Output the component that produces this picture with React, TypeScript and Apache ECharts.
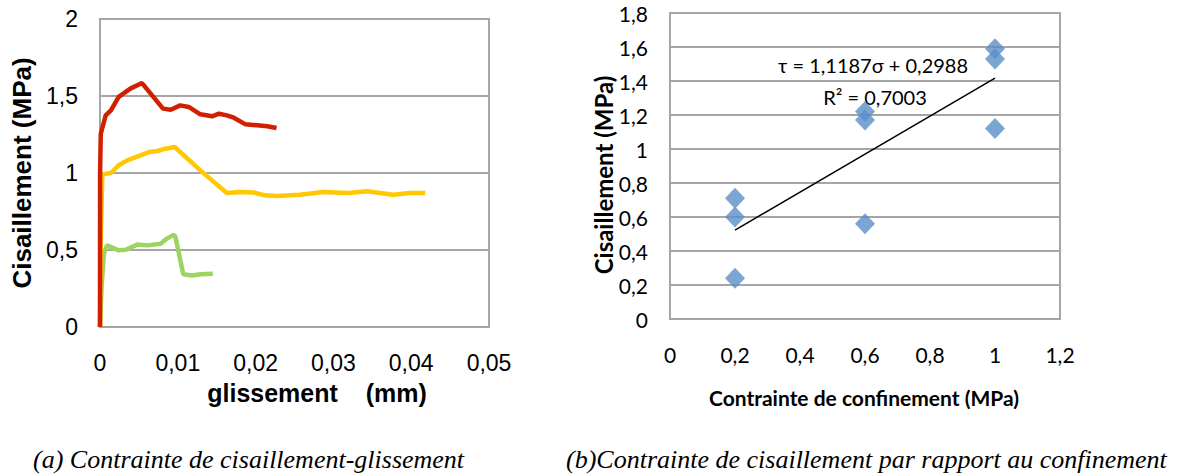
import React, { useEffect, useRef } from "react";
import * as echarts from "echarts";

// Left chart: shear stress vs slip (x in mm, y in MPa)
const redX = [0, 0.00001, 0.0001, 0.00073, 0.0014, 0.0024, 0.0039, 0.0054, 0.0081, 0.0091, 0.0103, 0.0114, 0.0129, 0.0144, 0.0153, 0.0163, 0.0172, 0.0187, 0.0202, 0.0215, 0.0227];
const redY = [0, 1.0, 1.255, 1.374, 1.407, 1.494, 1.548, 1.584, 1.418, 1.411, 1.439, 1.429, 1.381, 1.368, 1.385, 1.374, 1.359, 1.316, 1.31, 1.303, 1.292];

const yellowX = [0, 0.0001, 0.0003, 0.0014, 0.0024, 0.0035, 0.0052, 0.0063, 0.0074, 0.0084, 0.0096, 0.0129, 0.0163, 0.018, 0.0197, 0.0212, 0.0227, 0.0257, 0.0287, 0.0319, 0.0343, 0.0377, 0.0398, 0.0418];
const yellowY = [0, 0.6, 0.991, 1.0, 1.05, 1.082, 1.115, 1.136, 1.143, 1.158, 1.169, 1.017, 0.87, 0.877, 0.874, 0.855, 0.851, 0.859, 0.877, 0.87, 0.881, 0.859, 0.87, 0.87];

const greenX = [0, 0.0002, 0.0005, 0.0009, 0.0024, 0.0033, 0.0048, 0.0061, 0.0078, 0.0086, 0.0095, 0.0097, 0.0107, 0.0118, 0.0129, 0.0145];
const greenY = [0, 0.26, 0.476, 0.53, 0.498, 0.502, 0.535, 0.53, 0.541, 0.574, 0.6, 0.584, 0.342, 0.335, 0.342, 0.346];

// Right chart: shear vs confinement
const confX = [0.2, 0.2, 0.2, 0.6, 0.6, 0.6, 1.0, 1.0, 1.0];
const shearY = [0.71, 0.6, 0.24, 1.22, 1.17, 0.56, 1.59, 1.53, 1.12];
const trendSlope = 1.1187;
const trendIntercept = 0.2988;
const trendRange = [0.2, 1.0];

const leftYTicks = { min: 0, max: 2, interval: 0.5 };
const leftXTicks = { min: 0, max: 0.05, interval: 0.01 };
const rightYTicks = { min: 0, max: 1.8, interval: 0.2 };
const rightXTicks = { min: 0, max: 1.2, interval: 0.2 };

const zip = (xs: number[], ys: number[]) => xs.map((x, i) => [x, ys[i]]);
const comma = (v: number) => String(Math.round(v * 1000) / 1000).replace(".", ",");

export default function App() {
  const ref = useRef<HTMLDivElement>(null);
  useEffect(() => {
    if (!ref.current) return;
    const chart = echarts.init(ref.current, null, { renderer: "svg" });
    const gridLine = { show: true, lineStyle: { color: "#a6a6a6", width: 2 } };
    const armFont = "'Liberation Sans', Arial, sans-serif";
    const calFont = "Lato, 'Open Sans', sans-serif";
    const serif = "'Liberation Serif', 'Times New Roman', serif";
    chart.setOption({
      animation: false,
      backgroundColor: "#ffffff",
      grid: [
        { left: 100, right: 692, top: 19, bottom: 149, show: true, borderColor: "#a6a6a6", borderWidth: 2, backgroundColor: "transparent" },
        { left: 670, right: 121, top: 13, bottom: 157, show: true, borderColor: "#a6a6a6", borderWidth: 2, backgroundColor: "transparent" },
      ],
      xAxis: [
        {
          type: "value", gridIndex: 0, ...leftXTicks,
          axisLine: { show: false }, axisTick: { show: false }, splitLine: { show: false },
          axisLabel: { formatter: comma, fontFamily: armFont, fontSize: 23, color: "#000", margin: 24 },
        },
        {
          type: "value", gridIndex: 1, ...rightXTicks,
          axisLine: { show: false }, axisTick: { show: false }, splitLine: { show: false },
          axisLabel: { formatter: comma, fontFamily: calFont, fontSize: 21, color: "#000", margin: 25 },
        },
      ],
      yAxis: [
        {
          type: "value", gridIndex: 0, ...leftYTicks,
          axisLine: { show: false }, axisTick: { show: false }, splitLine: gridLine,
          axisLabel: { formatter: comma, fontFamily: armFont, fontSize: 23, color: "#000", margin: 22 },
        },
        {
          type: "value", gridIndex: 1, ...rightYTicks,
          axisLine: { show: false }, axisTick: { show: false }, splitLine: gridLine,
          axisLabel: { formatter: comma, fontFamily: calFont, fontSize: 21, color: "#000", margin: 22 },
        },
      ],
      series: [
        { type: "line", xAxisIndex: 0, yAxisIndex: 0, data: zip(greenX, greenY), showSymbol: false, lineStyle: { color: "#9dd35f", width: 4.5 } },
        { type: "line", xAxisIndex: 0, yAxisIndex: 0, data: zip(yellowX, yellowY), showSymbol: false, lineStyle: { color: "#ffc800", width: 4.5 } },
        { type: "line", xAxisIndex: 0, yAxisIndex: 0, data: zip(redX, redY), showSymbol: false, lineStyle: { color: "#d21f00", width: 4.5 } },
        {
          type: "line", xAxisIndex: 1, yAxisIndex: 1, showSymbol: false,
          data: trendRange.map((x) => [x, trendSlope * x + trendIntercept]),
          lineStyle: { color: "#000", width: 1.5 },
        },
        {
          type: "scatter", xAxisIndex: 1, yAxisIndex: 1, data: zip(confX, shearY),
          symbol: "diamond", symbolSize: [20, 21], itemStyle: { color: "#5b8ec9" },
        },
      ],
      graphic: [
        { type: "text", x: 22, y: 173, rotation: Math.PI / 2, style: { text: "Cisaillement (MPa)", fontFamily: armFont, fontWeight: "bold", fontSize: 26, fill: "#000", textAlign: "center", textVerticalAlign: "middle" } },
        { type: "text", x: 317, y: 393, style: { text: "glissement    (mm)", fontFamily: armFont, fontWeight: "bold", fontSize: 25, fill: "#000", textAlign: "center", textVerticalAlign: "middle" } },
        { type: "text", x: 603, y: 175, rotation: Math.PI / 2, style: { text: "Cisaillement (MPa)", fontFamily: calFont, fontWeight: "bold", fontSize: 24, fill: "#000", textAlign: "center", textVerticalAlign: "middle" } },
        { type: "text", x: 864, y: 397, style: { text: "Contrainte de confinement (MPa)", fontFamily: calFont, fontWeight: "bold", fontSize: 21, fill: "#000", textAlign: "center", textVerticalAlign: "middle" } },
        { type: "text", x: 873, y: 65, style: { text: "τ = 1,1187σ + 0,2988", fontFamily: calFont, fontSize: 20, fill: "#000", textAlign: "center", textVerticalAlign: "middle" } },
        { type: "text", x: 875, y: 97, style: { text: "R² = 0,7003", fontFamily: calFont, fontSize: 20, fill: "#000", textAlign: "center", textVerticalAlign: "middle" } },
        { type: "text", x: 33, y: 459, style: { text: "(a) Contrainte de cisaillement-glissement", fontFamily: serif, fontStyle: "italic", fontSize: 26, fill: "#000", textAlign: "left", textVerticalAlign: "middle" } },
        { type: "text", x: 566, y: 459, style: { text: "(b)Contrainte de cisaillement par rapport au confinement", fontFamily: serif, fontStyle: "italic", fontSize: 26, fill: "#000", textAlign: "left", textVerticalAlign: "middle" } },
      ],
    });
    return () => chart.dispose();
  }, []);
  return <div ref={ref} style={{ position: "fixed", left: 0, top: 0, width: 1181, height: 476 }} />;
}
